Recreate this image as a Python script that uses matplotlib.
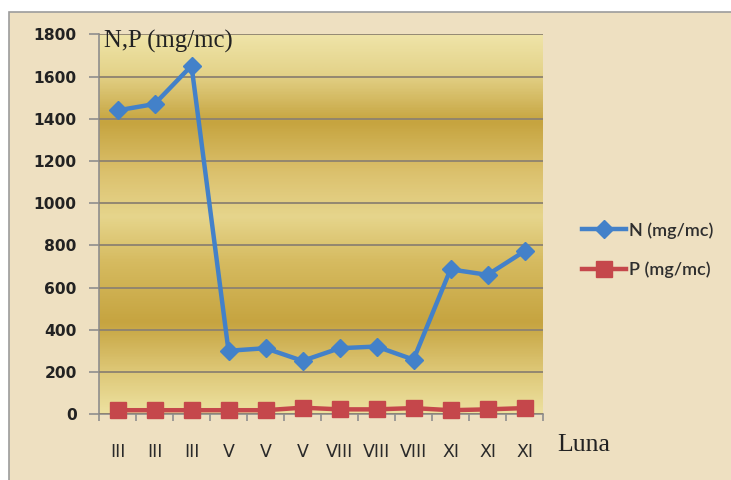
import numpy as np
import matplotlib
matplotlib.use("Agg")
import matplotlib.pyplot as plt
from matplotlib.colors import LinearSegmentedColormap
from matplotlib.patches import Rectangle

# Sampling months (Roman numerals) and measured concentrations
months = ["III", "III", "III", "V", "V", "V", "VIII", "VIII", "VIII", "XI", "XI", "XI"]
n_values = [1440, 1470, 1652, 300, 312, 252, 312, 320, 258, 686, 660, 772]
p_values = [18, 18, 18, 18, 18, 30, 22, 22, 28, 18, 22, 28]
y_ticks = [0, 200, 400, 600, 800, 1000, 1200, 1400, 1600, 1800]

fig = plt.figure(figsize=(7.31, 4.80), dpi=100)
fig.patch.set_facecolor("white")

# Parchment panel with a thin grey border
panel = Rectangle((9 / 731, -0.01), 1.0, (480 - 12) / 480 + 0.01,
                  transform=fig.transFigure, facecolor="#eee0c1",
                  edgecolor="#9c9c9c", linewidth=1.2, zorder=-10)
fig.patches.append(panel)

ax = fig.add_axes([99 / 731, (480 - 414) / 480, (543 - 99) / 731, (414 - 34.5) / 480])
ax.set_zorder(1)
ax.set_facecolor("none")

x = np.arange(len(months))
ax.set_xlim(-0.5, len(months) - 0.5)
ax.set_ylim(0, 1800)

# Banded gold gradient filling the plot area
stops = [
    (0.00, "#efe4a8"),
    (0.10, "#e4d38a"),
    (0.23, "#c6a43f"),
    (0.37, "#dcc26f"),
    (0.48, "#e6d58c"),
    (0.60, "#d6bb60"),
    (0.76, "#c6a440"),
    (0.88, "#dcc573"),
    (1.00, "#ede1a0"),
]
cmap = LinearSegmentedColormap.from_list("gold", [(1 - p, c) for p, c in stops][::-1])
grad = np.linspace(1, 0, 400).reshape(-1, 1)
ax.imshow(grad, cmap=cmap, vmin=0, vmax=1, aspect="auto",
          extent=[-0.5, len(months) - 0.5, 0, 1800], zorder=0,
          interpolation="bilinear")

ax.set_yticks(y_ticks)
ax.yaxis.grid(True, color="#8d8270", linewidth=1.3, zorder=1)
ax.set_axisbelow(False)

for side in ("top", "right"):
    ax.spines[side].set_visible(False)
for side in ("left", "bottom"):
    ax.spines[side].set_color("#8e8e8e")
    ax.spines[side].set_linewidth(1.2)
    ax.spines[side].set_zorder(2)

ax.tick_params(axis="y", length=7, width=1.2, color="#8e8e8e", pad=9,
               labelsize=11.2, labelcolor="#222222")
for lbl in ax.get_yticklabels():
    lbl.set_fontweight("bold")

# Category ticks sit between bins, labels at bin centres
ax.set_xticks(np.arange(-0.5, len(months)), minor=False)
ax.set_xticklabels([""] * (len(months) + 1))
ax.set_xticks(x, minor=True)
ax.set_xticklabels(months, minor=True, family=["Liberation Sans Narrow", "DejaVu Sans"],
                   fontsize=12.5, color="#2a2a2a")
ax.tick_params(axis="x", which="major", length=5, width=1.2, color="#8e8e8e", direction="out")
ax.tick_params(axis="x", which="minor", length=0, pad=21)

ax.plot(x, n_values, color="#4381c9", linewidth=3.2, marker="D", markersize=9,
        label="N (mg/mc)", zorder=4, clip_on=False)
ax.plot(x, p_values, color="#c5474b", linewidth=3.2, marker="s", markersize=11,
        label="P (mg/mc)", zorder=5, clip_on=False)

fig.text(104 / 731, 1 - 41 / 480, "N,P (mg/mc)", family="Liberation Serif",
         fontsize=17.8, color="#222222", va="center", ha="left", zorder=5)
fig.text(557 / 731, 1 - 445 / 480, "Luna", family="Liberation Serif",
         fontsize=18.5, color="#222222", va="center", ha="left")

leg = fig.legend(loc="center left", bbox_to_anchor=(566 / 731, 1 - 250 / 480),
                 frameon=False, handlelength=2.45, handletextpad=0.15,
                 labelspacing=1.25, prop={"family": "Lato", "size": 13, "weight": "semibold"})
for t in leg.get_texts():
    t.set_color("#2e2e2e")

fig.savefig("out.png", dpi=100, facecolor=fig.get_facecolor())
